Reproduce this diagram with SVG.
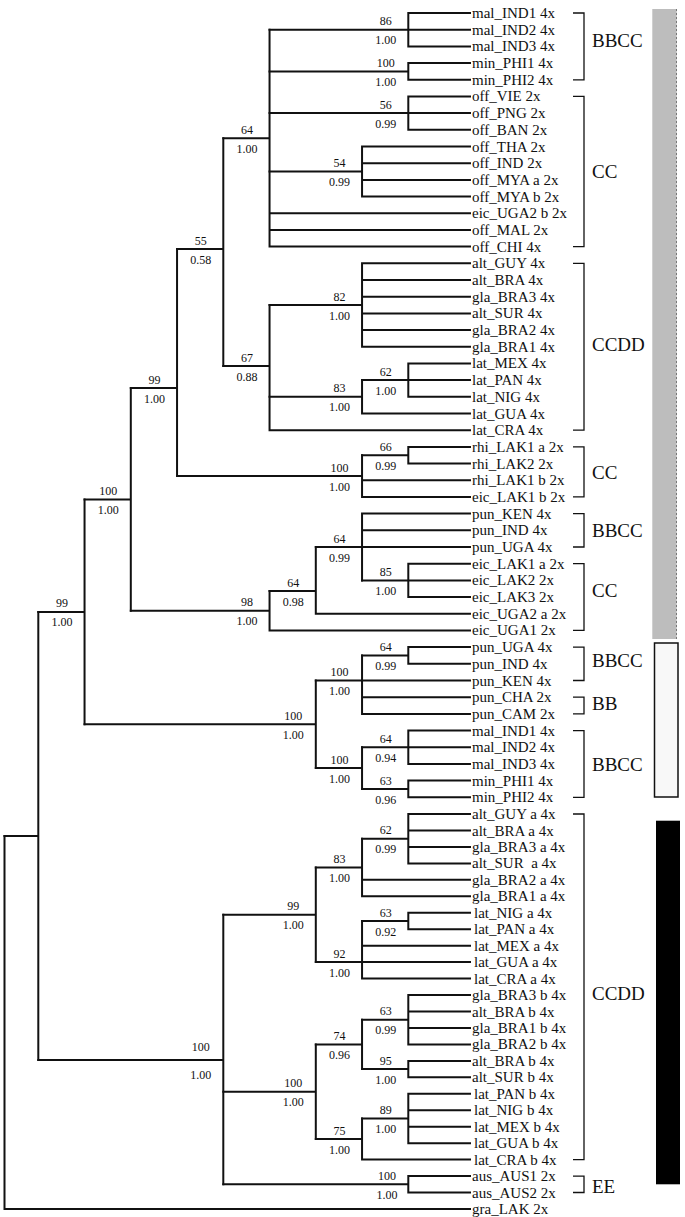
<svg xmlns="http://www.w3.org/2000/svg" width="685" height="1217" viewBox="0 0 685 1217">
<style>
.br{stroke:#111;stroke-width:2;fill:none;stroke-linecap:square}
.bk{stroke:#111;stroke-width:1.3;fill:none}
text{font-family:"Liberation Serif","Times New Roman",serif;fill:#111}
.lf{font-size:15px}
.sp{font-size:12px;text-anchor:middle}
.gl{font-size:19px}
</style>
<rect width="685" height="1217" fill="#fff"/>
<g id="connectors">
<path class="br" d="M269.55 29.7H408.3M408.3 13V46.4M408.3 13H470M408.3 29.7H470M408.3 46.4H470"/>
<path class="br" d="M269.55 71.4H408.3M408.3 63.1V79.8M408.3 63.1H470M408.3 79.8H470"/>
<path class="br" d="M269.55 113.1H408.3M408.3 96.4V129.8M408.3 96.4H470M408.3 113.1H470M408.3 129.8H470"/>
<path class="br" d="M269.55 171.5H362.05M362.05 146.5V196.6M362.05 146.5H470M362.05 163.2H470M362.05 179.9H470M362.05 196.6H470"/>
<path class="br" d="M223.3 138.2H269.55M269.55 29.7V246.6M269.55 213.3H470M269.55 229.9H470M269.55 246.6H470"/>
<path class="br" d="M269.55 305H362.05M362.05 263.3V346.8M362.05 263.3H470M362.05 280H470M362.05 296.7H470M362.05 313.4H470M362.05 330.1H470M362.05 346.8H470"/>
<path class="br" d="M362.05 380.1H408.3M408.3 363.4V396.8M408.3 363.4H470M408.3 380.1H470M408.3 396.8H470"/>
<path class="br" d="M269.55 396.8H362.05M362.05 380.1V413.5M362.05 413.5H470"/>
<path class="br" d="M223.3 366H269.55M269.55 305V430.2M269.55 430.2H470"/>
<path class="br" d="M177.05 249H223.3M223.3 138.2V366"/>
<path class="br" d="M362.05 455.2H408.3M408.3 446.9V463.6M408.3 446.9H470M408.3 463.6H470"/>
<path class="br" d="M177.05 476.1H362.05M362.05 455.2V496.9M362.05 480.3H470M362.05 496.9H470"/>
<path class="br" d="M130.8 388H177.05M177.05 249V476.1"/>
<path class="br" d="M362.05 580.4H408.3M408.3 563.7V597.1M408.3 563.7H470M408.3 580.4H470M408.3 597.1H470"/>
<path class="br" d="M315.8 547H362.05M362.05 513.6V580.4M362.05 513.6H470M362.05 530.3H470M362.05 547H470"/>
<path class="br" d="M269.55 591H315.8M315.8 547V613.8M315.8 613.8H470"/>
<path class="br" d="M130.8 610.7H269.55M269.55 591V630.4M269.55 630.4H470"/>
<path class="br" d="M84.55 499.4H130.8M130.8 388V610.7"/>
<path class="br" d="M362.05 655.5H408.3M408.3 647.1V663.8M408.3 647.1H470M408.3 663.8H470"/>
<path class="br" d="M315.8 680.5H362.05M362.05 655.5V713.9M362.05 680.5H470M362.05 697.2H470M362.05 713.9H470"/>
<path class="br" d="M362.05 747.3H408.3M408.3 730.6V763.9M408.3 730.6H470M408.3 747.3H470M408.3 763.9H470"/>
<path class="br" d="M362.05 789H408.3M408.3 780.6V797.3M408.3 780.6H470M408.3 797.3H470"/>
<path class="br" d="M315.8 768.1H362.05M362.05 747.3V789"/>
<path class="br" d="M84.55 724.3H315.8M315.8 680.5V768.1"/>
<path class="br" d="M38.3 611.9H84.55M84.55 499.4V724.3"/>
<path class="br" d="M362.05 838.7H408.3M408.3 814V863.4M408.3 814H470M408.3 830.5H470M408.3 846.9H470M408.3 863.4H470"/>
<path class="br" d="M315.8 867.5H362.05M362.05 838.7V896.3M362.05 879.8H470M362.05 896.3H470"/>
<path class="br" d="M362.05 921H408.3M408.3 912.8V929.2M408.3 912.8H470M408.3 929.2H470"/>
<path class="br" d="M315.8 962.1H362.05M362.05 921V978.6M362.05 945.7H470M362.05 962.1H470M362.05 978.6H470"/>
<path class="br" d="M223.3 914.8H315.8M315.8 867.5V962.1"/>
<path class="br" d="M362.05 1019.7H408.3M408.3 995V1044.4M408.3 995H470M408.3 1011.5H470M408.3 1028H470M408.3 1044.4H470"/>
<path class="br" d="M362.05 1069.1H408.3M408.3 1060.9V1077.3M408.3 1060.9H470M408.3 1077.3H470"/>
<path class="br" d="M315.8 1044.4H362.05M362.05 1019.7V1069.1"/>
<path class="br" d="M362.05 1118.5H408.3M408.3 1093.8V1143.2M408.3 1093.8H470M408.3 1110.3H470M408.3 1126.7H470M408.3 1143.2H470"/>
<path class="br" d="M315.8 1139.1H362.05M362.05 1118.5V1159.6M362.05 1159.6H470"/>
<path class="br" d="M223.3 1091.7H315.8M315.8 1044.4V1139.1"/>
<path class="br" d="M223.3 1184.3H408.3M408.3 1176.1V1192.5M408.3 1176.1H470M408.3 1192.5H470"/>
<path class="br" d="M38.3 1060H223.3M223.3 914.8V1184.3"/>
<path class="br" d="M4.5 836H38.3M38.3 611.9V1060"/>
<path class="br" d="M4.5 836V1209M4.5 1209H470"/>
</g>
<g id="support-labels">
<g id="s-n86"><text class="sp" x="385.8" y="25.2">86</text><text class="sp" x="385.8" y="44.2">1.00</text></g>
<g id="s-nmin"><text class="sp" x="385.8" y="66.9">100</text><text class="sp" x="385.8" y="85.9">1.00</text></g>
<g id="s-n56"><text class="sp" x="385.8" y="108.6">56</text><text class="sp" x="385.8" y="127.6">0.99</text></g>
<g id="s-n54"><text class="sp" x="339.5" y="167">54</text><text class="sp" x="339.5" y="186">0.99</text></g>
<g id="s-F"><text class="sp" x="247" y="133.7">64</text><text class="sp" x="247" y="152.7">1.00</text></g>
<g id="s-n82"><text class="sp" x="339.5" y="300.5">82</text><text class="sp" x="339.5" y="319.5">1.00</text></g>
<g id="s-n62"><text class="sp" x="385.8" y="375.6">62</text><text class="sp" x="385.8" y="394.6">1.00</text></g>
<g id="s-n83"><text class="sp" x="339.5" y="392.3">83</text><text class="sp" x="339.5" y="411.3">1.00</text></g>
<g id="s-G"><text class="sp" x="247" y="361.5">67</text><text class="sp" x="247" y="380.5">0.88</text></g>
<g id="s-E"><text class="sp" x="200.8" y="244.5">55</text><text class="sp" x="200.8" y="263.5">0.58</text></g>
<g id="s-n66"><text class="sp" x="385.8" y="450.7">66</text><text class="sp" x="385.8" y="469.7">0.99</text></g>
<g id="s-R"><text class="sp" x="339.5" y="471.6">100</text><text class="sp" x="339.5" y="490.6">1.00</text></g>
<g id="s-D"><text class="sp" x="154.5" y="383.5">99</text><text class="sp" x="154.5" y="402.5">1.00</text></g>
<g id="s-K3"><text class="sp" x="339.5" y="542.5">64</text><text class="sp" x="339.5" y="561.5">0.99</text></g>
<g id="s-n85"><text class="sp" x="385.8" y="575.9">85</text><text class="sp" x="385.8" y="594.9">1.00</text></g>
<g id="s-K2"><text class="sp" x="293.3" y="586.5">64</text><text class="sp" x="293.3" y="605.5">0.98</text></g>
<g id="s-K"><text class="sp" x="247" y="606.2">98</text><text class="sp" x="247" y="625.2">1.00</text></g>
<g id="s-C"><text class="sp" x="108.3" y="494.9">100</text><text class="sp" x="108.3" y="513.9">1.00</text></g>
<g id="s-n64p"><text class="sp" x="385.8" y="651">64</text><text class="sp" x="385.8" y="670">0.99</text></g>
<g id="s-M1"><text class="sp" x="339.5" y="676">100</text><text class="sp" x="339.5" y="695">1.00</text></g>
<g id="s-n64m"><text class="sp" x="385.8" y="742.8">64</text><text class="sp" x="385.8" y="761.8">0.94</text></g>
<g id="s-n63"><text class="sp" x="385.8" y="784.5">63</text><text class="sp" x="385.8" y="803.5">0.96</text></g>
<g id="s-M2"><text class="sp" x="339.5" y="763.6">100</text><text class="sp" x="339.5" y="782.6">1.00</text></g>
<g id="s-M"><text class="sp" x="293.3" y="719.8">100</text><text class="sp" x="293.3" y="738.8">1.00</text></g>
<g id="s-B"><text class="sp" x="62" y="607.4">99</text><text class="sp" x="62" y="626.4">1.00</text></g>
<g id="s-n62a"><text class="sp" x="385.8" y="834.2">62</text><text class="sp" x="385.8" y="853.2">0.99</text></g>
<g id="s-n83a"><text class="sp" x="339.5" y="863">83</text><text class="sp" x="339.5" y="882">1.00</text></g>
<g id="s-n63a"><text class="sp" x="385.8" y="916.5">63</text><text class="sp" x="385.8" y="935.5">0.92</text></g>
<g id="s-n92"><text class="sp" x="339.5" y="957.6">92</text><text class="sp" x="339.5" y="976.6">1.00</text></g>
<g id="s-n99a"><text class="sp" x="293.3" y="910.3">99</text><text class="sp" x="293.3" y="929.3">1.00</text></g>
<g id="s-n63b"><text class="sp" x="385.8" y="1015.2">63</text><text class="sp" x="385.8" y="1034.2">0.99</text></g>
<g id="s-n95"><text class="sp" x="385.8" y="1064.6">95</text><text class="sp" x="385.8" y="1083.6">1.00</text></g>
<g id="s-n74"><text class="sp" x="339.5" y="1039.9">74</text><text class="sp" x="339.5" y="1058.9">0.96</text></g>
<g id="s-n89"><text class="sp" x="385.8" y="1114">89</text><text class="sp" x="385.8" y="1133">1.00</text></g>
<g id="s-n75"><text class="sp" x="339.5" y="1134.6">75</text><text class="sp" x="339.5" y="1153.6">1.00</text></g>
<g id="s-n100b"><text class="sp" x="293.3" y="1087.2">100</text><text class="sp" x="293.3" y="1106.2">1.00</text></g>
<g id="s-aus"><text class="sp" x="387" y="1179.8">100</text><text class="sp" x="387" y="1198.8">1.00</text></g>
<g id="s-P"><text class="sp" x="200.8" y="1050.5">100</text><text class="sp" x="200.8" y="1079">1.00</text></g>
</g>
<g id="leaves" class="lf">
<g id="leaf01"><text x="472" y="18">mal_IND1 4x</text></g>
<g id="leaf02"><text x="472" y="34.7">mal_IND2 4x</text></g>
<g id="leaf03"><text x="472" y="51.4">mal_IND3 4x</text></g>
<g id="leaf04"><text x="472" y="68.1">min_PHI1 4x</text></g>
<g id="leaf05"><text x="472" y="84.8">min_PHI2 4x</text></g>
<g id="leaf06"><text x="472" y="101.4">off_VIE 2x</text></g>
<g id="leaf07"><text x="472" y="118.1">off_PNG 2x</text></g>
<g id="leaf08"><text x="472" y="134.8">off_BAN 2x</text></g>
<g id="leaf09"><text x="472" y="151.5">off_THA 2x</text></g>
<g id="leaf10"><text x="472" y="168.2">off_IND 2x</text></g>
<g id="leaf11"><text x="472" y="184.9">off_MYA a 2x</text></g>
<g id="leaf12"><text x="472" y="201.6">off_MYA b 2x</text></g>
<g id="leaf13"><text x="472" y="218.3">eic_UGA2 b 2x</text></g>
<g id="leaf14"><text x="472" y="234.9">off_MAL 2x</text></g>
<g id="leaf15"><text x="472" y="251.6">off_CHI 4x</text></g>
<g id="leaf16"><text x="472" y="268.3">alt_GUY 4x</text></g>
<g id="leaf17"><text x="472" y="285">alt_BRA 4x</text></g>
<g id="leaf18"><text x="472" y="301.7">gla_BRA3 4x</text></g>
<g id="leaf19"><text x="472" y="318.4">alt_SUR 4x</text></g>
<g id="leaf20"><text x="472" y="335.1">gla_BRA2 4x</text></g>
<g id="leaf21"><text x="472" y="351.8">gla_BRA1 4x</text></g>
<g id="leaf22"><text x="472" y="368.4">lat_MEX 4x</text></g>
<g id="leaf23"><text x="472" y="385.1">lat_PAN 4x</text></g>
<g id="leaf24"><text x="472" y="401.8">lat_NIG 4x</text></g>
<g id="leaf25"><text x="472" y="418.5">lat_GUA 4x</text></g>
<g id="leaf26"><text x="472" y="435.2">lat_CRA 4x</text></g>
<g id="leaf27"><text x="472" y="451.9">rhi_LAK1 a 2x</text></g>
<g id="leaf28"><text x="472" y="468.6">rhi_LAK2 2x</text></g>
<g id="leaf29"><text x="472" y="485.3">rhi_LAK1 b 2x</text></g>
<g id="leaf30"><text x="472" y="501.9">eic_LAK1 b 2x</text></g>
<g id="leaf31"><text x="472" y="518.6">pun_KEN 4x</text></g>
<g id="leaf32"><text x="472" y="535.3">pun_IND 4x</text></g>
<g id="leaf33"><text x="472" y="552">pun_UGA 4x</text></g>
<g id="leaf34"><text x="472" y="568.7">eic_LAK1 a 2x</text></g>
<g id="leaf35"><text x="472" y="585.4">eic_LAK2 2x</text></g>
<g id="leaf36"><text x="472" y="602.1">eic_LAK3 2x</text></g>
<g id="leaf37"><text x="472" y="618.8">eic_UGA2 a 2x</text></g>
<g id="leaf38"><text x="472" y="635.4">eic_UGA1 2x</text></g>
<g id="leaf39"><text x="472" y="652.1">pun_UGA 4x</text></g>
<g id="leaf40"><text x="472" y="668.8">pun_IND 4x</text></g>
<g id="leaf41"><text x="472" y="685.5">pun_KEN 4x</text></g>
<g id="leaf42"><text x="472" y="702.2">pun_CHA 2x</text></g>
<g id="leaf43"><text x="472" y="718.9">pun_CAM 2x</text></g>
<g id="leaf44"><text x="472" y="735.6">mal_IND1 4x</text></g>
<g id="leaf45"><text x="472" y="752.3">mal_IND2 4x</text></g>
<g id="leaf46"><text x="472" y="768.9">mal_IND3 4x</text></g>
<g id="leaf47"><text x="472" y="785.6">min_PHI1 4x</text></g>
<g id="leaf48"><text x="472" y="802.3">min_PHI2 4x</text></g>
<g id="leaf49"><text x="472" y="819">alt_GUY a 4x</text></g>
<g id="leaf50"><text x="472" y="835.5">alt_BRA a 4x</text></g>
<g id="leaf51"><text x="472" y="851.9">gla_BRA3 a 4x</text></g>
<g id="leaf52"><text x="472" y="868.4" style="white-space:pre">alt_SUR  a 4x</text></g>
<g id="leaf53"><text x="472" y="884.8">gla_BRA2 a 4x</text></g>
<g id="leaf54"><text x="472" y="901.3">gla_BRA1 a 4x</text></g>
<g id="leaf55"><text x="474" y="917.8">lat_NIG a 4x</text></g>
<g id="leaf56"><text x="474" y="934.2">lat_PAN a 4x</text></g>
<g id="leaf57"><text x="474" y="950.7">lat_MEX a 4x</text></g>
<g id="leaf58"><text x="474" y="967.1">lat_GUA a 4x</text></g>
<g id="leaf59"><text x="474" y="983.6">lat_CRA a 4x</text></g>
<g id="leaf60"><text x="472" y="1000">gla_BRA3 b 4x</text></g>
<g id="leaf61"><text x="472" y="1016.5">alt_BRA b 4x</text></g>
<g id="leaf62"><text x="472" y="1033">gla_BRA1 b 4x</text></g>
<g id="leaf63"><text x="472" y="1049.4">gla_BRA2 b 4x</text></g>
<g id="leaf64"><text x="472" y="1065.9">alt_BRA b 4x</text></g>
<g id="leaf65"><text x="472" y="1082.3">alt_SUR b 4x</text></g>
<g id="leaf66"><text x="474" y="1098.8">lat_PAN b 4x</text></g>
<g id="leaf67"><text x="474" y="1115.3">lat_NIG b 4x</text></g>
<g id="leaf68"><text x="474" y="1131.7">lat_MEX b 4x</text></g>
<g id="leaf69"><text x="474" y="1148.2">lat_GUA b 4x</text></g>
<g id="leaf70"><text x="474" y="1164.6">lat_CRA b 4x</text></g>
<g id="leaf71"><text x="472" y="1181.1">aus_AUS1 2x</text></g>
<g id="leaf72"><text x="472" y="1197.5">aus_AUS2 2x</text></g>
<g id="leaf73"><text x="472" y="1214">gra_LAK 2x</text></g>
</g>
<g id="brackets">
<g id="b1"><path class="bk" d="M573 13H584V79.8H573"/><text class="gl" x="592" y="46.5">BBCC</text></g>
<g id="b2"><path class="bk" d="M573 96.4H584V246.6H573"/><text class="gl" x="592" y="178">CC</text></g>
<g id="b3"><path class="bk" d="M573 263.3H584V430.2H573"/><text class="gl" x="592" y="350.5">CCDD</text></g>
<g id="b4"><path class="bk" d="M573 446.9H584V496.9H573"/><text class="gl" x="592" y="478.5">CC</text></g>
<g id="b5"><path class="bk" d="M573 513.6H584V547H573"/><text class="gl" x="592" y="536.5">BBCC</text></g>
<g id="b6"><path class="bk" d="M573 563.7H584V630.4H573"/><text class="gl" x="592" y="596.5">CC</text></g>
<g id="b7"><path class="bk" d="M573 647.1H584V680.5H573"/><text class="gl" x="592" y="666.5">BBCC</text></g>
<g id="b8"><path class="bk" d="M573 697.2H584V713.9H573"/><text class="gl" x="592" y="709.5">BB</text></g>
<g id="b9"><path class="bk" d="M573 730.6H584V797.3H573"/><text class="gl" x="592" y="770.5">BBCC</text></g>
<g id="b10"><path class="bk" d="M573 814H584V1159.6H573"/><text class="gl" x="592" y="999.5">CCDD</text></g>
<g id="b11"><path class="bk" d="M573 1176.1H584V1192.5H573"/><text class="gl" x="592" y="1192.5">EE</text></g>
</g>
<g id="bars">
<rect id="bar-gray" x="652.3" y="9" width="24.4" height="630" fill="#bdbdbd"/>
<line x1="676.5" y1="9" x2="676.5" y2="639" stroke="#777" stroke-width="1" stroke-dasharray="2 2"/>
<rect id="bar-white" x="654.5" y="643" width="23.5" height="154" fill="#f8f8f8" stroke="#111" stroke-width="1.5"/>
<rect id="bar-black" x="656" y="820.7" width="24" height="363.6" fill="#000"/>
</g>
</svg>
